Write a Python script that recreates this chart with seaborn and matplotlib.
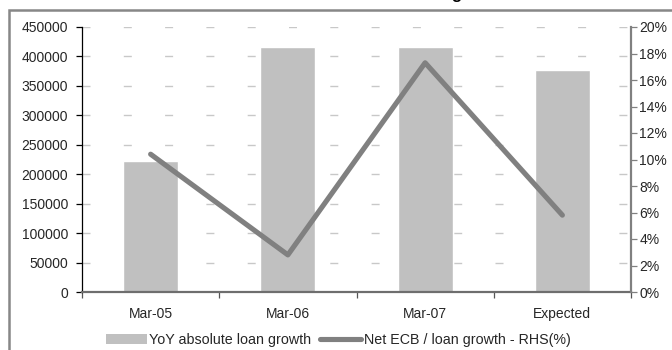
import numpy as np
import pandas as pd
import matplotlib
matplotlib.use("Agg")
import matplotlib.pyplot as plt
import seaborn as sns
from matplotlib.patches import Rectangle, Patch
from matplotlib.lines import Line2D
from matplotlib.ticker import FuncFormatter, MultipleLocator, FixedLocator

# ---- data ----
categories = ["Mar-05", "Mar-06", "Mar-07", "Expected"]
loan_growth = [222000, 416000, 416000, 377000]
ecb_share_pct = [10.4, 2.8, 17.3, 5.8]
bar_label = "YoY absolute loan growth"
line_label = "Net ECB / loan growth - RHS(%)"
title_text = "Net ECB borrowing"

sns.set_theme(style="white")
plt.rcParams["font.family"] = ["Liberation Sans", "DejaVu Sans"]
plt.rcParams["font.size"] = 10

W, H = 672, 350
fig = plt.figure(figsize=(W / 100, H / 100), dpi=100)
fig.patch.set_facecolor("white")

# outer chart border (cropped at right/bottom)
fig.patches.append(Rectangle((9 / W, -0.2), 1.2, (H - 10) / H + 0.2,
                             transform=fig.transFigure, fill=False,
                             edgecolor="#878787", linewidth=1.8, zorder=0))
# clipped title (only descender visible)
fig.text(462 / W, 1 + 1.5 / H, title_text, ha="right", va="baseline",
         fontsize=12, fontweight="bold", color="black")

ax = fig.add_axes([82 / W, (H - 292) / H, (631 - 82) / W, (292 - 27) / H])
df = pd.DataFrame({"cat": categories, "val": loan_growth})
sns.barplot(data=df, x="cat", y="val", color="#c0c0c0", saturation=1,
            width=0.4, ax=ax, zorder=2)
ax.set_xlim(-0.5, len(categories) - 0.5)
ax.set_ylim(0, 450000)
ax.yaxis.set_major_locator(MultipleLocator(50000))
ax.set_xlabel("")
ax.set_ylabel("")
ax.set_axisbelow(True)

# dashed gridlines
gl_on, gl_off = 8 * 0.72, 33.3 * 0.72
for yv in range(50000, 450001, 50000):
    ax.axhline(yv, color="#c8c8c8", linewidth=1.0,
               linestyle=(0, (gl_on / 1.0, gl_off / 1.0)), zorder=1)

for s in ["top"]:
    ax.spines[s].set_visible(False)
ax.spines["right"].set_visible(False)
ax.spines["left"].set_color("black")
ax.spines["left"].set_linewidth(0.9)
ax.spines["bottom"].set_color("#6e6e6e")
ax.spines["bottom"].set_linewidth(1.6)

ax.tick_params(axis="y", which="major", direction="out", length=4, width=0.9,
               color="black", pad=6, labelsize=10, left=True)
ax.xaxis.set_minor_locator(FixedLocator(np.arange(-0.5, len(categories), 1.0)))
ax.tick_params(axis="x", which="major", length=0, pad=11, labelsize=10)
ax.tick_params(axis="x", which="minor", direction="out", length=4, width=0.9,
               color="#555555", bottom=True)
ax.set_xticks(range(len(categories)))
ax.set_xticklabels(categories)

ax2 = ax.twinx()
sns.lineplot(x=np.arange(len(categories)), y=ecb_share_pct, ax=ax2,
             color="#808080", linewidth=3.7, zorder=5)
for ln in ax2.lines:
    ln.set_solid_capstyle("round")
    ln.set_solid_joinstyle("round")
ax2.set_ylim(0, 20)
ax2.set_xlim(-0.5, len(categories) - 0.5)
ax2.yaxis.set_major_locator(MultipleLocator(2))
ax2.yaxis.set_major_formatter(FuncFormatter(lambda v, p: f"{v:.0f}%"))
for s in ["top", "left", "bottom"]:
    ax2.spines[s].set_visible(False)
ax2.spines["right"].set_color("#808080")
ax2.spines["right"].set_linewidth(1.6)
ax2.tick_params(axis="y", which="major", direction="out", length=4, width=0.9,
                color="#808080", pad=2, labelsize=10, right=True)
ax2.set_ylabel("")

handles = [Patch(facecolor="#c0c0c0", edgecolor="none", label=bar_label),
           Line2D([0], [0], color="#808080", linewidth=3.7,
                  solid_capstyle="round", label=line_label)]
fig.legend(handles=handles, loc="center", bbox_to_anchor=(338 / W, (H - 340) / H),
           ncol=2, frameon=False, fontsize=10.3, handlelength=2.9,
           handleheight=0.75, handletextpad=0.15, columnspacing=0.6,
           borderaxespad=0, borderpad=0)

fig.savefig("out.png", dpi=100, facecolor="white")
